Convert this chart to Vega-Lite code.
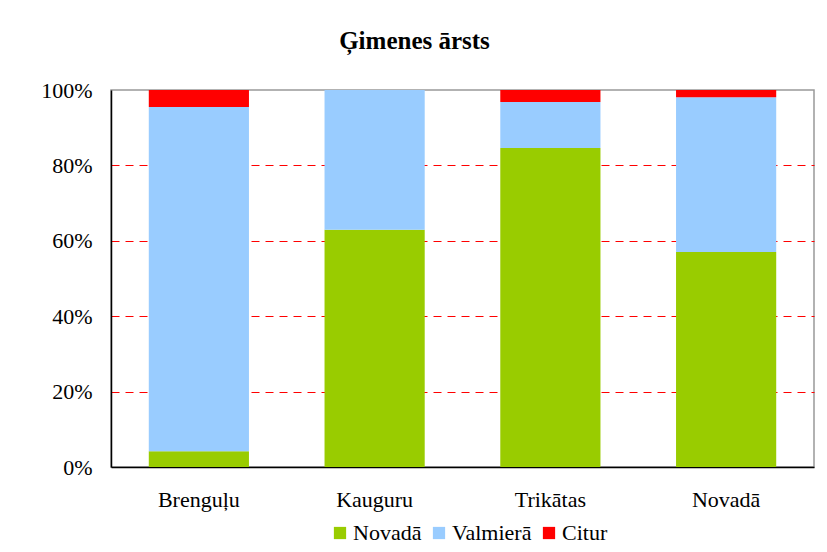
{
  "$schema": "https://vega.github.io/schema/vega-lite/v6.json",
  "width": 703,
  "height": 377,
  "autosize": {"type": "none"},
  "padding": {"left": 111, "top": 90, "right": 13, "bottom": 85},
  "background": "white",
  "title": {
    "text": "Ģimenes ārsts",
    "fontSize": 25,
    "fontWeight": "bold",
    "color": "black",
    "anchor": "middle",
    "frame": "group",
    "dx": -48,
    "offset": 25
  },
  "data": {
    "values": [
      {"vieta": "Brenguļu", "grupa": "Novadā", "ord": 1, "v": 4.2},
      {"vieta": "Brenguļu", "grupa": "Valmierā", "ord": 2, "v": 91.3},
      {"vieta": "Brenguļu", "grupa": "Citur", "ord": 3, "v": 4.5},
      {"vieta": "Kauguru", "grupa": "Novadā", "ord": 1, "v": 62.9},
      {"vieta": "Kauguru", "grupa": "Valmierā", "ord": 2, "v": 37.1},
      {"vieta": "Kauguru", "grupa": "Citur", "ord": 3, "v": 0},
      {"vieta": "Trikātas", "grupa": "Novadā", "ord": 1, "v": 84.6},
      {"vieta": "Trikātas", "grupa": "Valmierā", "ord": 2, "v": 12.2},
      {"vieta": "Trikātas", "grupa": "Citur", "ord": 3, "v": 3.2},
      {"vieta": "Novadā", "grupa": "Novadā", "ord": 1, "v": 57.0},
      {"vieta": "Novadā", "grupa": "Valmierā", "ord": 2, "v": 41.1},
      {"vieta": "Novadā", "grupa": "Citur", "ord": 3, "v": 1.9}
    ]
  },
  "mark": {"type": "bar"},
  "encoding": {
    "x": {
      "field": "vieta",
      "type": "nominal",
      "sort": ["Brenguļu", "Kauguru", "Trikātas", "Novadā"],
      "scale": {"paddingInner": 0.43, "paddingOuter": 0.215},
      "axis": {
        "title": null,
        "labelAngle": 0,
        "labelFontSize": 22,
        "labelColor": "black",
        "labelPadding": 22,
        "ticks": false,
        "domainColor": "black",
        "domainWidth": 1.5
      }
    },
    "y": {
      "field": "v",
      "type": "quantitative",
      "stack": "zero",
      "scale": {"domain": [0, 100], "nice": false},
      "axis": {
        "title": null,
        "values": [0, 20, 40, 60, 80, 100],
        "labelExpr": "datum.value + '%'",
        "labelFontSize": 22,
        "labelColor": "black",
        "labelPadding": 19,
        "ticks": false,
        "domainColor": "black",
        "domainWidth": 1.5,
        "grid": true,
        "gridColor": "#ff0000",
        "gridOpacity": {"condition": {"test": "datum.value == 100 || datum.value == 0", "value": 0}, "value": 1},
        "gridDash": [8, 6],
        "gridWidth": 1
      }
    },
    "color": {
      "field": "grupa",
      "type": "nominal",
      "sort": ["Novadā", "Valmierā", "Citur"],
      "scale": {"domain": ["Novadā", "Valmierā", "Citur"], "range": ["#99cc00", "#99ccff", "#ff0000"]},
      "legend": {
        "title": null,
        "orient": "none",
        "legendX": 218,
        "legendY": 432,
        "direction": "horizontal",
        "symbolType": "square",
        "symbolSize": 150,
        "symbolStrokeWidth": 0,
        "symbolOpacity": 1,
        "labelFontSize": 22,
        "labelColor": "black",
        "labelOffset": 2,
        "columnPadding": 6
      }
    },
    "order": {"field": "ord", "type": "quantitative"}
  },
  "config": {
    "font": "Liberation Serif",
    "view": {"stroke": "#999999", "strokeWidth": 1.5}
  }
}
